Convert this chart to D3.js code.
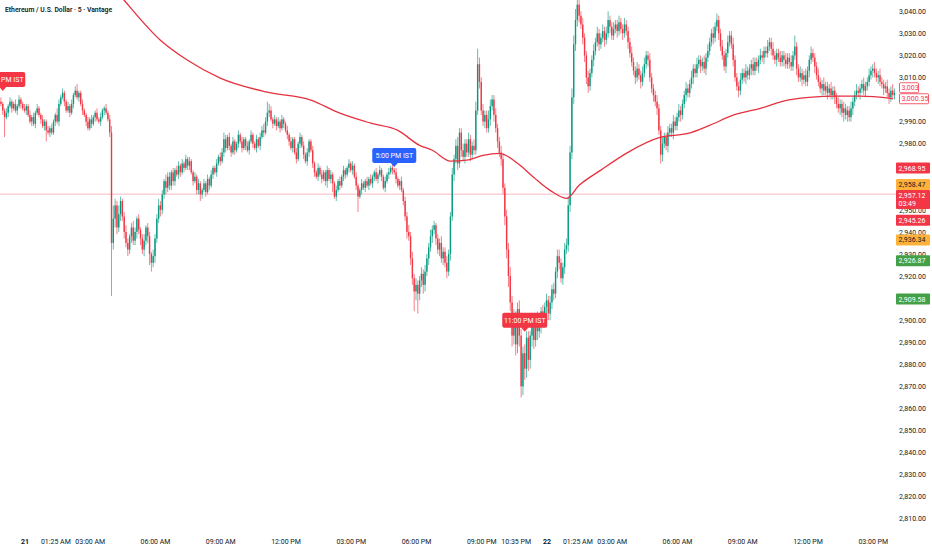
<!DOCTYPE html>
<html>
<head>
<meta charset="utf-8">
<script src="https://cdn.jsdelivr.net/npm/d3@7"></script>
<style>
	body { margin: 0; background: #fff; }
	svg text { font-family: Roboto, "Noto Sans", sans-serif; }
</style>
</head>
<body>
<script>
"use strict";

const title = "Ethereum / U.S. Dollar · 5 · Vantage";

// 5 minute candles, first one opens at 20th 22:55
const firstCandle = "20 22:55";
const firstOpen = 2999;
const closes = [
	2998, 2995, 2992, 2994, 2997, 2999, 2996, 2998, 2995, 2997, 3000, 2998, 2996,
	2995, 2997, 2993, 2990, 2992, 2989, 2994, 2996, 2993, 2991, 2988, 2990, 2986, 2985,
	2987, 2985, 2990, 2993, 2990, 2998, 3001, 3003, 2999, 2995, 2997, 2994, 2998, 3002,
	3004, 3001, 3003, 2998, 2995, 2993, 2990, 2987, 2991, 2989, 2992, 2994, 2991, 2990,
	2992, 2995, 2996, 2994, 2991, 2985, 2935, 2946, 2952, 2942, 2948, 2954, 2947, 2940,
	2935, 2932, 2938, 2942, 2936, 2940, 2946, 2941, 2937, 2932, 2936, 2942, 2938, 2930,
	2926, 2929, 2937, 2946, 2952, 2950, 2957, 2963, 2960, 2965, 2961, 2967, 2963, 2968,
	2966, 2970, 2967, 2971, 2969, 2973, 2970, 2972, 2967, 2963, 2965, 2959, 2962,
	2957, 2959, 2962, 2958, 2964, 2961, 2966, 2969, 2967, 2971, 2974, 2972, 2976, 2982,
	2978, 2983, 2979, 2976, 2981, 2977, 2980, 2984, 2981, 2978, 2982, 2979, 2977, 2981,
	2984, 2980, 2978, 2982, 2979, 2983, 2986, 2985, 2990, 2994, 2995, 2991, 2989, 2991,
	2988, 2990, 2987, 2991, 2989, 2986, 2984, 2981, 2978, 2982, 2976, 2973, 2980, 2983,
	2979, 2975, 2972, 2976, 2981, 2977, 2971, 2967, 2965, 2969, 2966, 2964, 2967, 2963,
	2968, 2964, 2966, 2962, 2956, 2959, 2963, 2961, 2965, 2968, 2966, 2969, 2971, 2968,
	2970, 2965, 2961, 2956, 2959, 2962, 2960, 2963, 2961, 2964, 2962, 2965, 2967, 2964,
	2966, 2968, 2965, 2960, 2963, 2966, 2967, 2969, 2968, 2967, 2964, 2961, 2963, 2959,
	2954, 2947, 2940, 2938, 2928, 2919, 2913, 2916, 2912, 2918, 2921, 2916, 2922, 2928,
	2933, 2938, 2941, 2943, 2937, 2932, 2935, 2928, 2931, 2926, 2922, 2930, 2947, 2966,
	2973, 2979, 2971, 2985, 2977, 2974, 2980, 2976, 2982, 2975, 2979, 2977, 2995, 3016,
	3008, 2995, 2990, 2993, 2987, 2991, 2997, 3000, 2993, 2987, 2981, 2976, 2973, 2960,
	2947, 2932, 2920, 2908, 2893, 2901, 2889, 2905, 2893, 2870, 2885, 2878, 2892, 2882,
	2893, 2897, 2891, 2901, 2895, 2898, 2904, 2900, 2906, 2909, 2903, 2908, 2914, 2912,
	2922, 2929, 2926, 2919, 2924, 2932, 2934, 2952, 2976, 3001, 3025, 3036, 3043, 3038,
	3034, 3028, 3020, 3010, 3006, 3012, 3018, 3022, 3026, 3030, 3025, 3028, 3031, 3027,
	3030, 3036, 3033, 3029, 3032, 3034, 3031, 3035, 3032, 3030, 3034, 3031, 3026, 3021,
	3017, 3013, 3010, 3014, 3011, 3008, 3012, 3016, 3020, 3018, 3010, 3005, 3002, 2999,
	2996, 2986, 2975, 2980, 2983, 2979, 2985, 2987, 2985, 2990, 2988, 2992, 2995, 2993,
	2998, 3002, 3005, 3003, 3007, 3010, 3014, 3012, 3016, 3018, 3015, 3017, 3014, 3019,
	3022, 3026, 3030, 3028, 3033, 3036, 3030, 3024, 3020, 3015, 3021, 3026, 3029, 3025,
	3018, 3010, 3006, 3004, 3009, 3012, 3010, 3013, 3011, 3014, 3016, 3013, 3017, 3015,
	3018, 3020, 3019, 3022, 3021, 3024, 3026, 3023, 3020, 3018, 3021, 3019, 3017, 3020,
	3018, 3016, 3019, 3017, 3015, 3020, 3024, 3014, 3010, 3012, 3009, 3011, 3008, 3013,
	3018, 3021, 3019, 3015, 3011, 3008, 3005, 3007, 3004, 3006, 3003, 3005, 3002, 3004,
	3001, 2998, 2996, 2998, 2994, 2996, 2993, 2995, 2992, 2996, 2999, 3002, 3004, 3003,
	3005, 3007, 3004, 3006, 3008, 3011, 3013, 3014, 3012, 3010, 3011, 3008, 3007, 3005,
	3006, 3003, 3001, 3004, 3002, 3003
];
// wick length above / below the body, same order as closes
const upperWicks = [
	2,1,1,2,1,2,1,1,2,1,2,1,1,2,1,1,2,1,2,
	1,2,1,1,2,1,1,2,1,2,1,1,3,2,1,2,1,1,2,
	1,2,1,2,3,1,1,2,1,1,2,1,2,1,1,2,1,2,1,
	1,2,1,2,3,6,3,2,4,2,1,2,3,2,1,2,3,2,1,
	2,1,2,3,1,2,2,1,3,2,2,3,2,2,1,3,2,2,1,
	2,1,2,2,1,2,1,2,1,2,1,1,2,1,2,1,1,2,1,
	2,1,2,1,1,2,1,2,2,3,2,1,2,1,2,1,1,2,1,
	2,1,1,2,1,2,1,1,2,1,2,2,3,2,5,3,2,1,2,
	1,2,1,2,1,1,2,1,2,1,1,2,1,2,1,2,1,2,1,
	1,2,1,1,2,1,2,1,1,2,1,2,1,1,2,1,2,1,2,
	1,1,2,1,2,1,2,1,1,2,1,1,2,1,2,1,1,2,1,
	2,1,1,2,1,2,1,2,1,2,1,1,2,1,2,2,3,2,3,
	2,3,2,2,3,2,3,2,2,3,2,2,1,2,2,3,2,2,3,
	2,2,3,2,3,4,2,2,3,2,2,3,2,2,3,4,7,3,2,
	3,2,2,4,3,2,2,3,2,2,3,2,2,3,3,4,3,4,3,
	3,4,3,3,4,3,3,2,3,3,2,3,3,2,3,2,3,2,3,
	2,3,2,3,3,2,2,3,3,4,3,4,4,5,3,3,2,3,2,
	2,3,2,2,3,2,3,2,2,3,2,3,4,2,2,3,2,2,3,
	2,2,3,2,2,2,3,2,2,3,2,2,3,3,2,2,3,2,2,
	2,3,2,2,3,2,2,3,2,2,3,2,2,3,2,2,2,3,2,
	2,3,2,2,3,2,2,2,3,2,3,2,2,3,2,3,2,2,3,
	2,2,3,2,2,3,2,2,2,3,2,2,3,2,2,2,3,2,2,
	2,3,2,2,2,3,2,2,3,2,2,2,3,2,2,3,2,2,3,
	2,5,2,2,3,2,2,3,2,2,3,2,2,2,3,2,2,3,2,
	2,2,3,2,2,2,3,2,2,3,2,2,2,3,2,2,3,2,2,
	2,3,2,2,3,2,2,3,2,2,3,2,2,2,3,2,2,3,2
];
const lowerWicks = [
	1,2,9,1,2,1,2,1,1,2,1,2,1,1,2,1,1,2,1,
	2,1,1,2,1,2,5,1,2,1,1,2,1,2,1,1,2,1,1,
	2,1,2,1,1,2,1,2,1,2,1,1,2,1,2,1,1,2,1,
	2,1,1,2,24,3,4,3,2,3,2,3,2,3,2,3,2,2,3,
	2,3,2,3,2,3,5,4,2,3,2,2,3,2,2,3,2,2,2,
	2,2,1,2,2,1,2,1,2,2,1,2,1,2,2,3,2,1,2,
	1,2,1,2,1,2,1,2,1,2,2,1,2,2,1,2,1,2,1,
	2,1,2,1,2,1,2,1,2,1,2,1,2,1,2,2,1,2,1,
	2,1,2,1,2,1,2,2,1,2,1,2,1,2,1,2,1,2,2,
	1,2,2,1,2,1,2,1,2,3,1,2,4,1,2,1,2,1,2,
	2,1,2,1,2,1,2,7,1,2,1,2,1,2,1,2,2,1,2,
	1,2,1,2,1,2,1,2,1,2,1,2,1,2,2,3,2,3,3,
	9,4,9,3,3,4,3,2,3,2,3,2,3,2,3,2,3,2,3,
	2,3,2,3,2,3,2,3,2,3,2,2,3,2,2,2,2,3,2,
	2,3,2,2,3,2,3,2,3,2,3,3,4,4,5,4,5,4,5,
	4,5,5,4,5,4,5,4,5,4,3,4,3,4,3,3,4,3,3,
	3,3,2,3,3,2,3,3,2,3,3,3,3,3,3,3,2,3,3,
	3,3,2,2,3,2,2,3,2,2,3,2,2,3,2,2,2,3,2,
	2,3,2,2,3,2,2,2,3,2,2,3,2,2,2,3,2,2,3,
	2,3,2,4,3,2,2,3,2,2,3,2,2,2,3,2,2,3,2,
	2,2,3,2,2,2,3,2,2,3,2,2,2,3,2,2,3,2,2,
	2,3,2,2,2,3,2,2,3,2,2,2,3,2,2,3,2,2,2,
	3,2,2,3,2,2,2,3,2,2,3,2,2,2,3,2,2,3,2,
	2,2,3,2,2,3,2,2,2,3,2,2,3,2,2,2,3,2,2,
	3,2,2,2,3,2,2,3,2,4,2,3,2,2,3,2,2,2,3,
	2,2,3,2,2,2,3,2,2,3,2,2,3,2,2,3,2,2,2
];

// moving average, read at these times
const maTimes = ["21 03:20", "21 04:35", "21 06:15", "21 07:30", "21 09:00", "21 11:10", "21 13:10",
	"21 14:30", "21 15:55", "21 17:10", "21 18:10", "21 18:45", "21 19:35", "21 20:20", "21 21:05",
	"21 21:50", "21 22:40", "21 23:25", "22 00:10", "22 00:55", "22 01:30", "22 02:30", "22 03:40",
	"22 05:15", "22 06:30", "22 07:30", "22 08:35", "22 09:50", "22 11:05", "22 12:05", "22 13:20",
	"22 14:25", "22 15:55"];
const maValues = [3060, 3045.0, 3026.9, 3017.8, 3009.7, 3003.3, 2999.7,
	2993.8, 2989.3, 2986.0, 2979.2, 2977.0, 2972.1, 2972.5, 2974.7,
	2975.6, 2971.1, 2964.7, 2958.8, 2955.2, 2961.1, 2968.0, 2975.6,
	2982.9, 2984.6, 2988.3, 2992.9, 2996.0, 2999.7, 3001.0, 3001.5,
	3001.5, 3000.4];

const lastPrice = 2957.12;

const timeTicks = ["21 00:00", "21 01:25", "21 03:00", "21 06:00", "21 09:00", "21 12:00", "21 15:00",
	"21 18:00", "21 21:00", "21 22:35", "22 00:00", "22 01:25", "22 03:00", "22 06:00", "22 09:00",
	"22 12:00", "22 15:00"];
const priceTicks = [3040, 3030, 3020, 3010, 3000, 2990, 2980, 2970, 2960, 2950, 2940, 2930, 2920,
	2910, 2900, 2890, 2880, 2870, 2860, 2850, 2840, 2830, 2820, 2810];

// session markers on the chart (price = tip of the arrow)
const tagTimes = ["20 23:00", "21 17:00", "21 23:00"];
const tagPrices = [3003.9, 2969.4, 2894.8];
const tagTexts = ["11:00 PM IST", "5:00 PM IST", "11:00 PM IST"];
const tagKinds = ["red", "blue", "red"];

// labels on the price scale
const scaleValues = [3003, 3000.35, 2968.95, 2958.47, 2957.12, 2945.26, 2936.34, 2926.87, 2909.58];
const scaleTexts = ["3,003", "3,000.35", "2,968.95", "2,958.47", "2,957.12", "2,945.26", "2,936.34", "2,926.87", "2,909.58"];
const scaleKinds = ["outline", "outline", "red", "orange", "red", "red", "orange", "green", "green"];
const countdown = "03:49";

const colors = {
	up: "#089981",
	down: "#f23645",
	red: "#f23645",
	blue: "#2962ff",
	orange: "#ffb13b",
	green: "#43a047",
	text: "#131722"
};

const W = 932;
const H = 550;
const plotRight = 896;
const plotBottom = 530;

const parseTime = d3.timeParse("%d %H:%M");
const start = parseTime(firstCandle);

const candles = closes.map((c, k) => {
	const o = k === 0 ? firstOpen : closes[k - 1];
	return {
		date: d3.timeMinute.offset(start, 5 * k),
		open: o,
		close: c,
		high: Math.max(o, c) + (upperWicks[k] || 0),
		low: Math.min(o, c) - (lowerWicks[k] || 0)
	};
});

const x = d3.scaleTime()
	.domain([parseTime("21 00:00"), parseTime("22 06:00")])
	.range([24.5, 677]);
const y = d3.scaleLinear()
	.domain([2805.8, 3045.1])
	.range([528, 0]);

const svg = d3.select("body")
	.append("svg")
	.attr("width", W)
	.attr("height", H);

svg.append("rect")
	.attr("width", W)
	.attr("height", H)
	.attr("fill", "#fff");

svg.append("clipPath")
	.attr("id", "plot")
	.append("rect")
	.attr("width", plotRight)
	.attr("height", plotBottom);

const plot = svg.append("g").attr("clip-path", "url(#plot)");

// last price line
plot.append("line")
	.attr("x1", 0)
	.attr("x2", plotRight)
	.attr("y1", y(lastPrice))
	.attr("y2", y(lastPrice))
	.attr("stroke", colors.red)
	.attr("stroke-opacity", 0.35)
	.attr("stroke-width", 1);

// session tags, behind the candles
tagTimes.forEach((t, i) => {
	const tx = x(parseTime(t));
	const ty = y(tagPrices[i]);
	const w = tagTexts[i].length > 11 ? 45 : 44;
	const g = svg.append("g").attr("transform", `translate(${tx},${ty})`);
	g.append("path")
		.attr("d", `M${-w / 2 + 2},-19 H${w / 2 - 2} Q${w / 2},-19 ${w / 2},-17 V-6 Q${w / 2},-4 ${w / 2 - 2},-4
			H3.5 L0,0 L-3.5,-4 H${-w / 2 + 2} Q${-w / 2},-4 ${-w / 2},-6 V-17 Q${-w / 2},-19 ${-w / 2 + 2},-19 Z`)
		.attr("fill", colors[tagKinds[i]]);
	g.append("text")
		.attr("y", -9)
		.attr("text-anchor", "middle")
		.attr("font-size", 7)
		.attr("fill", "#fff")
		.text(tagTexts[i]);
});

const bars = plot.append("g")
	.selectAll("g")
	.data(candles)
	.join("g")
	.attr("fill", d => d.close >= d.open ? colors.up : colors.down)
	.attr("stroke", d => d.close >= d.open ? colors.up : colors.down);

bars.append("line")
	.attr("x1", d => x(d.date))
	.attr("x2", d => x(d.date))
	.attr("y1", d => y(d.high))
	.attr("y2", d => y(d.low))
	.attr("stroke-width", 0.8)
	.attr("stroke-opacity", 0.8);

bars.append("rect")
	.attr("x", d => x(d.date) - 0.7)
	.attr("width", 1.4)
	.attr("y", d => y(Math.max(d.open, d.close)))
	.attr("height", d => Math.max(0.8, Math.abs(y(d.open) - y(d.close))))
	.attr("stroke", "none");

const maLine = d3.line()
	.x(d => x(d.date))
	.y(d => y(d.value))
	.curve(d3.curveMonotoneX);

plot.append("path")
	.datum(maTimes.map((t, i) => ({ date: parseTime(t), value: maValues[i] })))
	.attr("d", maLine)
	.attr("fill", "none")
	.attr("stroke", "#e5313f")
	.attr("stroke-width", 1.3);

// axes
const isDay = d => d.getHours() === 0 && d.getMinutes() === 0;
const xAxis = d3.axisBottom(x)
	.tickValues(timeTicks.map(parseTime))
	.tickSize(0)
	.tickPadding(3)
	.tickFormat(d => isDay(d) ? d3.timeFormat("%-d")(d) : d3.timeFormat("%I:%M %p")(d));

const gx = svg.append("g")
	.attr("transform", `translate(0,${536})`)
	.call(xAxis);
gx.select(".domain").remove();
gx.attr("font-size", 7).attr("font-family", null).attr("color", colors.text);
gx.selectAll("text")
	.attr("font-weight", d => isDay(d) ? 700 : 400);

const yAxis = d3.axisRight(y)
	.tickValues(priceTicks)
	.tickSize(0)
	.tickPadding(0)
	.tickFormat(d3.format(",.2f"));

const gy = svg.append("g")
	.attr("transform", `translate(899,0)`)
	.call(yAxis);
gy.select(".domain").remove();
gy.attr("font-size", 7).attr("font-family", null).attr("color", colors.text);

// price scale labels, pushed apart from the bottom up
const boxes = scaleValues.map((v, i) => ({
	value: v,
	text: scaleTexts[i],
	kind: scaleKinds[i],
	double: v === lastPrice,
	yv: y(v)
}));
let limit = Infinity;
boxes.slice().sort((a, b) => b.yv - a.yv).forEach(b => {
	b.h = b.double ? 19 : 11;
	b.top = b.yv - (b.double ? 4 : 5.5);
	if (b.top + b.h > limit) b.top = limit - b.h;
	limit = b.top;
});

const gl = svg.append("g");
boxes.forEach(b => {
	const outline = b.kind === "outline";
	const bx = outline ? 899 : 896;
	const bw = outline ? (b.text.length > 5 ? 30 : 20) : 34;
	gl.append("rect")
		.attr("x", bx + (outline ? 0.5 : 0))
		.attr("y", b.top + (outline ? 0.5 : 0))
		.attr("width", bw - (outline ? 1 : 0))
		.attr("height", b.h - (outline ? 1 : 0))
		.attr("rx", 1)
		.attr("fill", outline ? "#fff" : colors[b.kind])
		.attr("stroke", outline ? colors.red : "none")
		.attr("stroke-width", 0.8);
	const fill = outline ? colors.red : (b.kind === "orange" ? colors.text : "#fff");
	gl.append("text")
		.attr("x", bx + 2.5)
		.attr("y", b.top + (b.double ? 7.9 : 8))
		.attr("font-size", 7)
		.attr("fill", fill)
		.text(b.text);
	if (b.double) {
		gl.append("text")
			.attr("x", bx + 2.5)
			.attr("y", b.top + 16)
			.attr("font-size", 7)
			.attr("fill", fill)
			.text(countdown);
	}
});

svg.append("text")
	.attr("x", 5)
	.attr("y", 12)
	.attr("font-size", 6.8)
	.attr("font-weight", 600)
	.attr("fill", colors.text)
	.text(title);
</script>
</body>
</html>
